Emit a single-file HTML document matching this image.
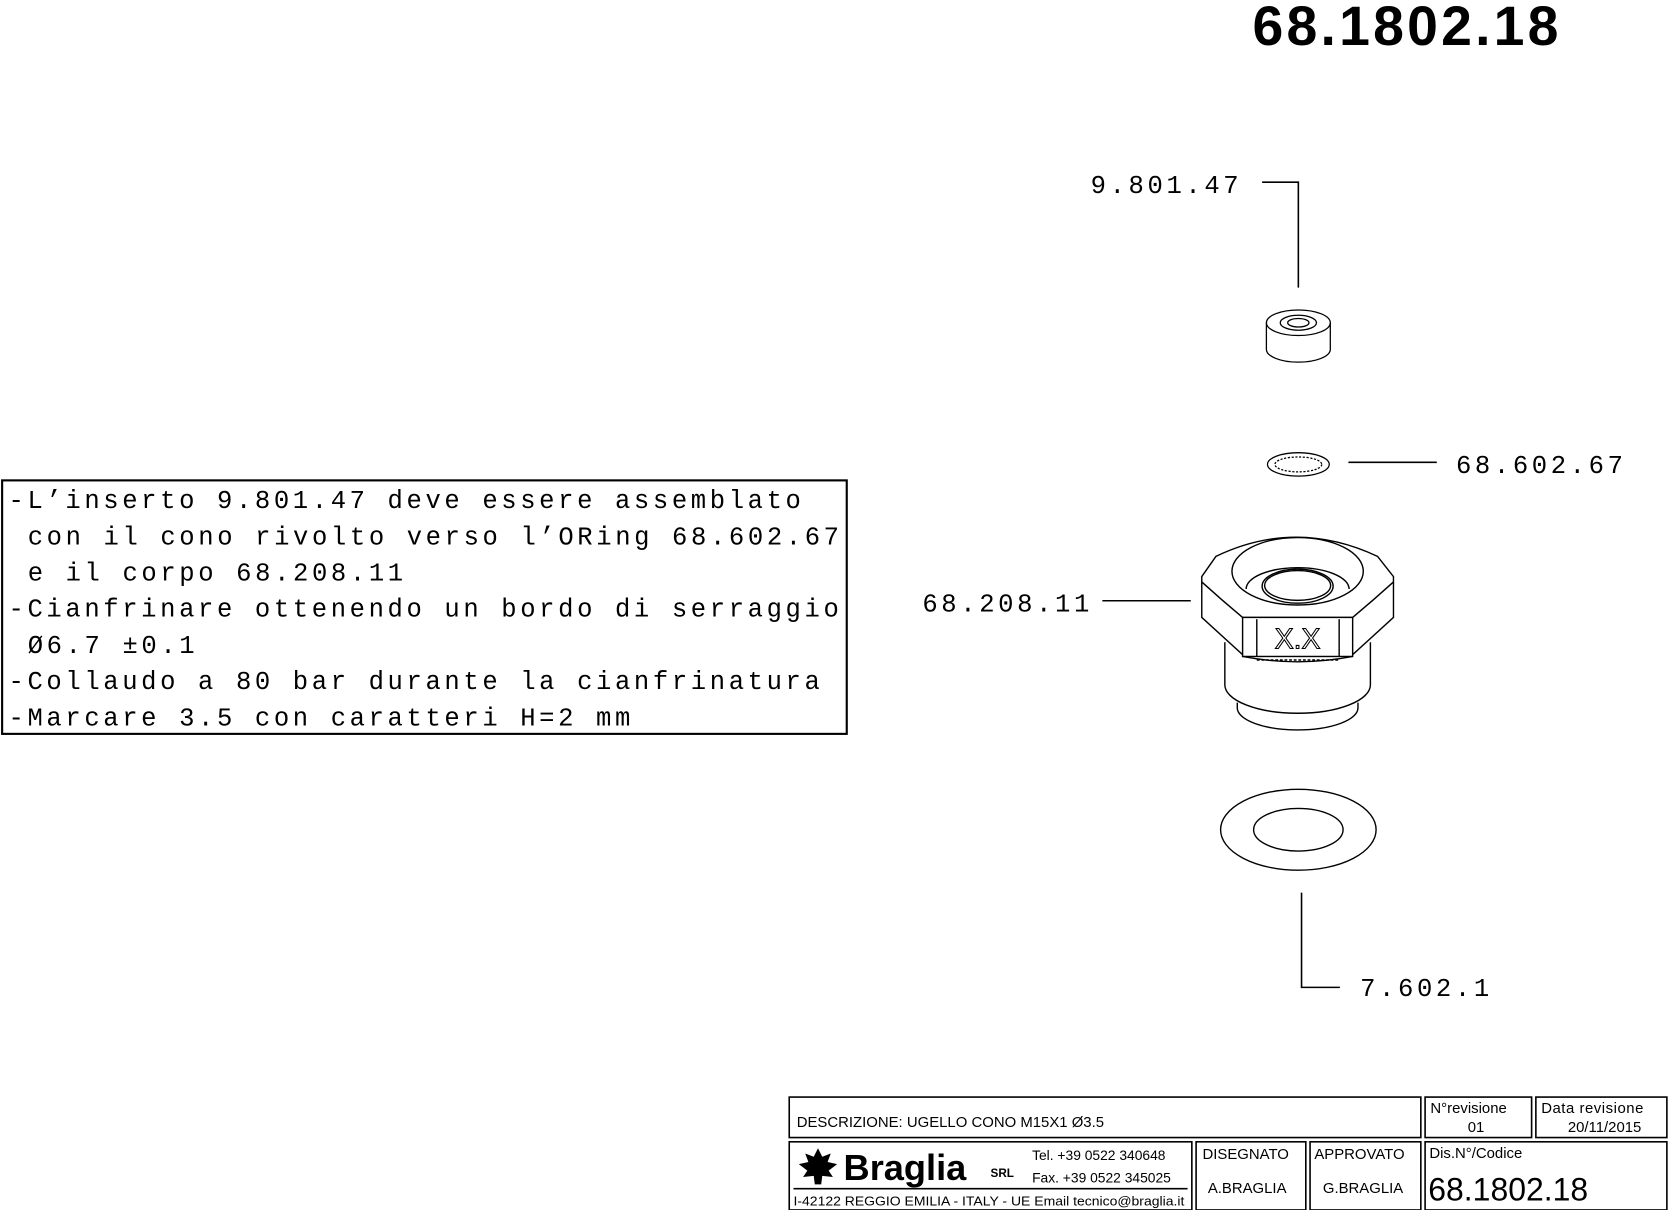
<!DOCTYPE html>
<html><head><meta charset="utf-8"><style>
html,body{margin:0;padding:0;background:#fff;}
svg{display:block;}
.m{font-family:"Liberation Mono",monospace;font-size:24px;fill:#000;}
.s{font-family:"Liberation Sans",sans-serif;fill:#000;}
</style></head><body>
<svg width="1669" height="1210" viewBox="0 0 1567 1136" xmlns="http://www.w3.org/2000/svg">
<rect width="1567" height="1136" fill="#fff"/>
<text x="1176" y="42" class="s" font-weight="bold" font-size="52" letter-spacing="3">68.1802.18</text>

<!-- 9.801.47 -->
<text x="1024" y="181" class="m" letter-spacing="3.4">9.801.47</text>
<polyline points="1185,171 1219,171 1219,270" fill="none" stroke="#000" stroke-width="1.5"/>
<g fill="none" stroke="#000" stroke-width="1.2">
<ellipse cx="1219" cy="303" rx="30" ry="12"/>
<ellipse cx="1219" cy="303" rx="17" ry="7"/>
<ellipse cx="1219" cy="303" rx="10" ry="4"/>
<path d="M1189,303 V328 A30,12 0 0 0 1249,328 V303"/>
</g>

<!-- small o-ring -->
<g fill="none" stroke="#000" stroke-width="1.2">
<ellipse cx="1219" cy="436" rx="29" ry="11"/>
<ellipse cx="1219" cy="436" rx="22" ry="7" stroke-dasharray="2,1.5"/>
</g>
<line x1="1266" y1="434" x2="1349" y2="434" stroke="#000" stroke-width="1.5"/>
<text x="1367" y="444" class="m" letter-spacing="3.4">68.602.67</text>

<!-- nut -->
<text x="866" y="574" class="m" letter-spacing="3.4">68.208.11</text>
<line x1="1035" y1="564" x2="1118" y2="564" stroke="#000" stroke-width="1.5"/>
<g transform="translate(1070,463) scale(0.3333)" fill="none" stroke="#000" stroke-width="4">
<path d="M240,420 V540 A205,80 0 0 0 650,540 V420"/>
<path d="M275,590 V605 A170,62 0 0 0 615,605 V590"/>
<path d="M290,460 Q445,490 600,460"/>
<path d="M175,235 L215,178 Q440,70 670,178 L715,235 V350 L600,455 L290,455 L175,350 Z" fill="#fff"/>
<path d="M175,250 Q230,300 290,350 L600,350 Q660,300 715,250"/>
<ellipse cx="445" cy="220" rx="185" ry="95"/>
<path d="M300,270 A145,60 0 0 1 590,270"/>
<ellipse cx="445" cy="262" rx="100" ry="48"/>
<ellipse cx="445" cy="260" rx="93" ry="42"/>
<rect x="290" y="350" width="310" height="110" fill="#fff"/>
<line x1="330" y1="355" x2="330" y2="460"/>
<line x1="562" y1="355" x2="562" y2="460"/>
<path d="M330,470 H562" stroke-dasharray="8,5"/>
<text x="445" y="438" text-anchor="middle" font-family="Liberation Sans,sans-serif" font-size="80" fill="#fff" stroke="#000" stroke-width="3">X.X</text>
</g>

<!-- big o-ring -->
<g fill="none" stroke="#000" stroke-width="1.3">
<ellipse cx="1219" cy="779" rx="73" ry="38"/>
<ellipse cx="1219" cy="779" rx="42" ry="20"/>
</g>
<polyline points="1222,838 1222,927 1258,927" fill="none" stroke="#000" stroke-width="1.5"/>
<text x="1277" y="935" class="m" letter-spacing="3.4">7.602.1</text>

<!-- notes -->
<rect x="2" y="451" width="793" height="238" fill="none" stroke="#000" stroke-width="2"/>
<text x="8" y="477" class="m" letter-spacing="3.4">-L’inserto 9.801.47 deve essere assemblato</text>
<text x="26" y="511" class="m" letter-spacing="3.4">con il cono rivolto verso l’ORing 68.602.67</text>
<text x="26" y="545" class="m" letter-spacing="3.4">e il corpo 68.208.11</text>
<text x="8" y="579" class="m" letter-spacing="3.4">-Cianfrinare ottenendo un bordo di serraggio</text>
<text x="26" y="613" class="m" letter-spacing="3.4">Ø6.7 ±0.1</text>
<text x="8" y="647" class="m" letter-spacing="3.4">-Collaudo a 80 bar durante la cianfrinatura</text>
<text x="8" y="681" class="m" letter-spacing="3.4">-Marcare 3.5 con caratteri H=2 mm</text>

<!-- title block -->
<g fill="none" stroke="#000" stroke-width="1.5">
<rect x="741" y="1030" width="593" height="38"/>
<rect x="1338" y="1030" width="100" height="38"/>
<rect x="1442" y="1030" width="123" height="38"/>
<rect x="741" y="1072" width="378" height="64"/>
<rect x="1123" y="1072" width="103" height="64"/>
<rect x="1230" y="1072" width="104" height="64"/>
<rect x="1338" y="1072" width="227" height="64"/>
<line x1="745" y1="1116" x2="1115" y2="1116"/>
</g>
<text x="748" y="1058" class="s" font-size="14">DESCRIZIONE: UGELLO CONO M15X1 Ø3.5</text>
<text x="1343" y="1045" class="s" font-size="14">N°revisione</text>
<text x="1378" y="1063" class="s" font-size="14">01</text>
<text x="1447" y="1045" class="s" font-size="14" letter-spacing="0.5">Data revisione</text>
<text x="1472" y="1063" class="s" font-size="14">20/11/2015</text>
<text x="1129" y="1088" class="s" font-size="14">DISEGNATO</text>
<text x="1134" y="1120" class="s" font-size="14">A.BRAGLIA</text>
<text x="1234" y="1088" class="s" font-size="14">APPROVATO</text>
<text x="1242" y="1120" class="s" font-size="14">G.BRAGLIA</text>
<text x="1342" y="1087" class="s" font-size="14">Dis.N°/Codice</text>
<text x="1341" y="1127" class="s" font-size="30">68.1802.18</text>
<path d="M768,1078 l4,8 l8,-3 l-3,8 l9,2 l-8,6 l4,6 l-10,-1 l-1,8 h-6 l-1,-8 l-10,1 l4,-6 l-8,-6 l9,-2 l-3,-8 l8,3 z" fill="#000"/>
<text x="792" y="1108" class="s" font-size="34" font-weight="bold">Braglia</text>
<text x="930" y="1105" class="s" font-size="11" font-weight="bold">SRL</text>
<text x="969" y="1089" class="s" font-size="13">Tel. +39 0522 340648</text>
<text x="969" y="1110" class="s" font-size="13">Fax. +39 0522 345025</text>
<text x="745" y="1132" class="s" font-size="12" textLength="367" lengthAdjust="spacingAndGlyphs">I-42122 REGGIO EMILIA - ITALY - UE Email tecnico@braglia.it</text>
</svg>
</body></html>
